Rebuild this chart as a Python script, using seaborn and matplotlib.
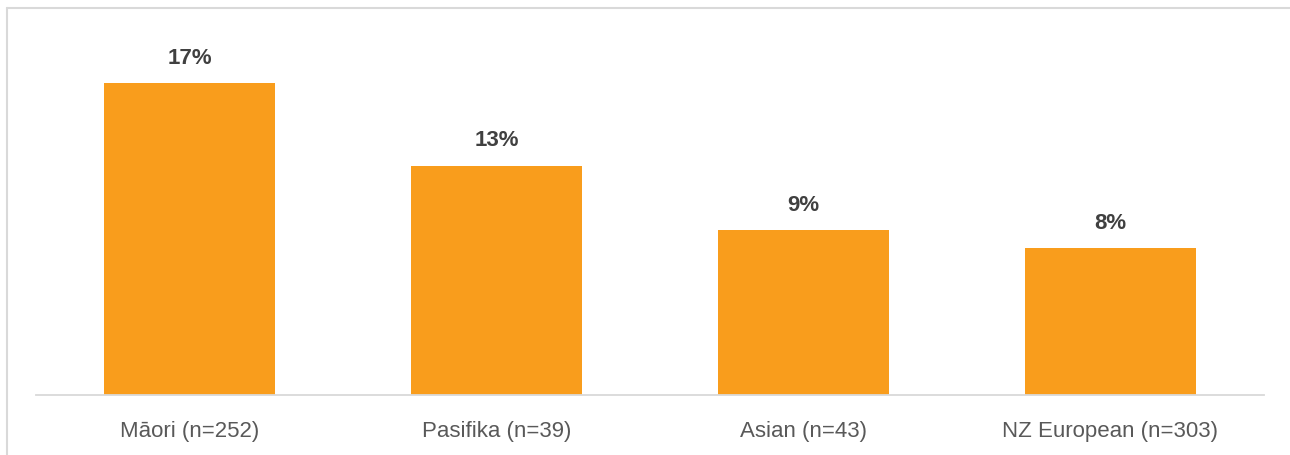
import matplotlib
matplotlib.use("Agg")
import matplotlib.pyplot as plt
from matplotlib.lines import Line2D
import seaborn as sns
import pandas as pd

categories = ["Māori (n=252)", "Pasifika (n=39)", "Asian (n=43)", "NZ European (n=303)"]
values = [17.0, 12.5, 9.0, 8.0]
value_labels = ["17%", "13%", "9%", "8%"]

sns.set_theme(style="white")
plt.rcParams['font.family'] = ['Liberation Sans', 'DejaVu Sans']

W, H, DPI = 1290, 456, 100
fig = plt.figure(figsize=(W / DPI, H / DPI), dpi=DPI)
ax = fig.add_axes([36 / W, 60 / H, 1228 / W, 376 / H])

df = pd.DataFrame({"cat": categories, "val": values})
sns.barplot(data=df, x="cat", y="val", color="#F99D1C", saturation=1,
            width=0.557, ax=ax, order=categories)
for p in ax.patches:
    p.set_edgecolor("none")
    p.set_linewidth(0)

ax.set_xlim(-0.5, len(categories) - 0.5)
ax.set_ylim(0, 376 / 18.35)

for i, (v, lab) in enumerate(zip(values, value_labels)):
    ax.annotate(lab, (i, v), xytext=(0, 11), textcoords="offset points",
                ha="center", va="bottom", fontsize=16, fontweight="bold",
                color="#404040")

ax.set_xlabel("")
ax.set_ylabel("")
ax.set_yticks([])
ax.tick_params(axis="x", length=0, pad=18, labelsize=16, labelcolor="#595959")
for s in ["top", "right", "left"]:
    ax.spines[s].set_visible(False)
ax.spines["bottom"].set_color("#D9D9D9")
ax.spines["bottom"].set_linewidth(1.3)

fig.add_artist(Line2D([7 / W, 1], [1 - 9 / H, 1 - 9 / H], color="#D9D9D9", lw=1.5,
                      transform=fig.transFigure))
fig.add_artist(Line2D([7 / W, 7 / W], [0, 1 - 9 / H], color="#D9D9D9", lw=1.5,
                      transform=fig.transFigure))

fig.savefig("out.png", dpi=DPI)
